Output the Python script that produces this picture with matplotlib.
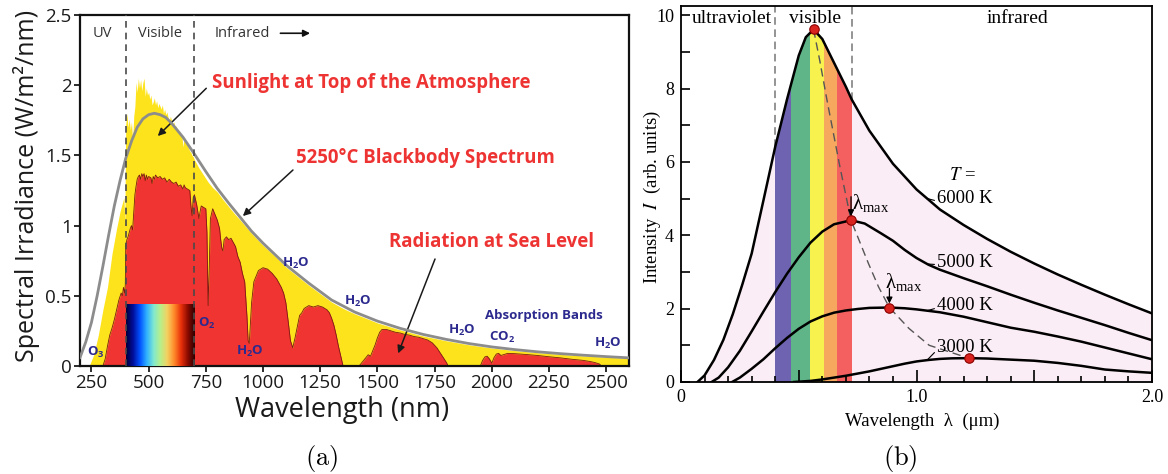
import numpy as np
import matplotlib
matplotlib.use("Agg")
import matplotlib.pyplot as plt
from matplotlib.colors import LinearSegmentedColormap
from matplotlib.patches import Polygon

# ---------------- (a) solar spectrum data (nm, W/m^2/nm) ----------------
bb_wl = [200, 225, 250, 275, 300, 325, 350, 375, 400, 425, 450, 475, 500, 525,
         550, 575, 600, 650, 700, 750, 800, 850, 900, 950, 1000, 1100, 1200,
         1300, 1400, 1500, 1600, 1700, 1800, 1900, 2000, 2100, 2200, 2300,
         2400, 2500, 2600]
bb_val = [0.06, 0.17, 0.31, 0.50, 0.71, 0.93, 1.14, 1.32, 1.48, 1.60, 1.70,
          1.76, 1.79, 1.80, 1.79, 1.77, 1.73, 1.63, 1.51, 1.385, 1.265, 1.16,
          1.06, 0.96, 0.875, 0.72, 0.59, 0.47, 0.385, 0.32, 0.268, 0.225,
          0.19, 0.16, 0.136, 0.117, 0.101, 0.088, 0.077, 0.067, 0.058]

toa_wl = [240, 260, 280, 300, 320, 340, 360, 375, 385, 392, 396,
          400, 405, 410, 415, 420, 425, 430, 435, 440, 445, 450, 455, 460,
          465, 470, 475, 480, 485, 490, 495, 500, 505, 510, 515, 520, 525,
          530, 535, 540, 545, 550, 555, 560, 565, 570, 575, 580, 585, 590,
          595, 600, 605, 610, 615, 620, 625, 630, 635, 640, 645, 650, 655,
          660, 665, 670, 675, 680, 685, 690, 695, 700, 710, 720,
          740, 760, 780, 800, 825, 850, 875, 900, 950, 1000, 1050, 1100,
          1150, 1200, 1250, 1300, 1350, 1400, 1450, 1500, 1600, 1700, 1800,
          1900, 2000, 2100, 2200, 2300, 2400, 2500, 2600]
toa_val = [0.00, 0.08, 0.22, 0.40, 0.56, 0.80, 0.98, 1.10, 1.16, 1.20, 1.02,
           1.72, 1.80, 1.70, 1.76, 1.68, 1.74, 1.60, 1.78, 1.85, 2.02, 1.95,
           2.05, 1.98, 2.04, 1.96, 2.02, 2.05, 1.92, 1.98, 1.93, 1.95, 1.90,
           1.93, 1.86, 1.88, 1.91, 1.86, 1.89, 1.84, 1.87, 1.85, 1.83, 1.86,
           1.80, 1.83, 1.79, 1.81, 1.77, 1.74, 1.78, 1.75, 1.72, 1.74, 1.70,
           1.71, 1.68, 1.66, 1.67, 1.64, 1.65, 1.56, 1.62, 1.60, 1.58, 1.57,
           1.55, 1.53, 1.52, 1.50, 1.49, 1.47, 1.44, 1.41,
           1.36, 1.31, 1.27, 1.24, 1.185, 1.135, 1.085, 1.04, 0.945, 0.86,
           0.785, 0.705, 0.64, 0.575, 0.515, 0.455, 0.41, 0.372, 0.34, 0.307,
           0.257, 0.214, 0.18, 0.151, 0.128, 0.11, 0.095, 0.083, 0.072,
           0.063, 0.055]

sea_wl = [300, 310, 320, 330, 340, 350, 360, 370, 380, 385, 390, 395, 398,
          400, 405, 410, 415, 420, 425, 430, 435, 440, 445, 450, 455, 460,
          465, 470, 475, 480, 485, 490, 495, 500, 510, 515, 520, 525, 530,
          540, 550, 560, 570, 580, 590, 600, 610, 620, 630, 640, 650, 655,
          660, 670, 680, 685, 690, 695, 700, 710, 720, 725, 730, 740, 750,
          755, 760, 765, 770, 780, 790, 800, 810, 815, 820, 825, 830, 840,
          850, 860, 870, 880, 890, 900, 910, 920, 930, 935, 940, 945, 950,
          960, 970, 980, 990, 1000, 1020, 1040, 1060, 1080, 1090, 1100,
          1110, 1120, 1130, 1140, 1150, 1160, 1170, 1180, 1190, 1200, 1220,
          1240, 1260, 1280, 1290, 1300, 1310, 1320, 1330, 1340, 1350,
          1420, 1440, 1460, 1470, 1480, 1490, 1500, 1510, 1520, 1540, 1560,
          1580, 1600, 1620, 1640, 1660, 1680, 1700, 1720, 1740, 1760, 1780,
          1800, 1810,
          1950, 1960, 1970, 1980, 1990, 2000, 2010, 2020, 2030, 2040, 2050,
          2070, 2100, 2150, 2200, 2250, 2300, 2350, 2400, 2430, 2450, 2470,
          2480]
sea_val = [0.00, 0.05, 0.14, 0.22, 0.27, 0.33, 0.40, 0.47, 0.52, 0.50, 0.56,
           0.52, 0.58, 0.86, 0.90, 0.92, 0.95, 0.98, 1.00, 0.97, 1.10, 1.22,
           1.28, 1.33, 1.35, 1.36, 1.33, 1.37, 1.35, 1.37, 1.32, 1.36, 1.33,
           1.35, 1.34, 1.30, 1.35, 1.33, 1.36, 1.34, 1.35, 1.33, 1.34, 1.31,
           1.33, 1.31, 1.30, 1.31, 1.28, 1.29, 1.26, 1.29, 1.27, 1.26, 1.25,
           1.14, 1.07, 1.20, 1.22, 1.15, 1.05, 1.10, 1.14, 1.13, 1.12, 0.95,
           0.43, 0.70, 1.05, 1.12, 1.08, 1.04, 0.98, 0.90, 0.84, 0.82, 0.90,
           0.92, 0.90, 0.91, 0.88, 0.85, 0.78, 0.74, 0.66, 0.60, 0.35, 0.18,
           0.16, 0.30, 0.45, 0.60, 0.64, 0.68, 0.69, 0.70, 0.69, 0.66, 0.62,
           0.56, 0.52, 0.45, 0.32, 0.18, 0.13, 0.20, 0.28, 0.36, 0.38, 0.41,
           0.42, 0.43, 0.42, 0.43, 0.42, 0.40, 0.38, 0.34, 0.29, 0.22, 0.14,
           0.07, 0.00,
           0.00, 0.04, 0.08, 0.07, 0.11, 0.15, 0.20, 0.24, 0.26, 0.26, 0.25,
           0.24, 0.235, 0.225, 0.22, 0.21, 0.205, 0.195, 0.185, 0.165, 0.13,
           0.08, 0.03, 0.00,
           0.00, 0.04, 0.065, 0.07, 0.05, 0.02, 0.06, 0.085, 0.09, 0.075,
           0.08, 0.09, 0.088, 0.082, 0.075, 0.066, 0.058, 0.048, 0.04, 0.032,
           0.025, 0.015, 0.00]

vis_band = (400, 700)
rainbow_top = 0.435

# ---------------- (b) blackbody curves (um, arb. units) ----------------
lam_6000 = [0.07, 0.10, 0.14, 0.18, 0.22, 0.26, 0.30, 0.35, 0.40, 0.45, 0.50,
            0.53, 0.563, 0.60, 0.65, 0.70, 0.725, 0.80, 0.90, 1.00, 1.10,
            1.20, 1.30, 1.40, 1.50, 1.60, 1.70, 1.80, 1.90, 2.00]
int_6000 = [0.0, 0.18, 0.60, 1.15, 1.85, 2.65, 3.50, 4.95, 6.41, 7.70, 8.90,
            9.40, 9.61, 9.35, 8.70, 8.05, 7.70, 6.85, 5.95, 5.25, 4.70,
            4.28, 3.90, 3.55, 3.23, 2.93, 2.65, 2.38, 2.12, 1.87]

lam_5000 = [0.13, 0.16, 0.20, 0.25, 0.30, 0.35, 0.40, 0.45, 0.50, 0.55, 0.60,
            0.65, 0.722, 0.78, 0.85, 0.90, 0.95, 1.00, 1.05, 1.10, 1.20, 1.30,
            1.40, 1.50, 1.60, 1.70, 1.80, 1.90, 2.00]
int_5000 = [0.0, 0.12, 0.40, 0.85, 1.38, 1.92, 2.45, 2.95, 3.40, 3.80, 4.10,
            4.30, 4.41, 4.32, 4.05, 3.85, 3.60, 3.38, 3.20, 3.06, 2.83, 2.61,
            2.38, 2.16, 1.95, 1.75, 1.55, 1.34, 1.14]

lam_4000 = [0.217, 0.25, 0.30, 0.35, 0.40, 0.45, 0.50, 0.55, 0.60, 0.65, 0.70,
            0.75, 0.80, 0.885, 0.95, 1.00, 1.05, 1.10, 1.20, 1.30, 1.40, 1.50,
            1.60, 1.70, 1.80, 1.90, 2.00]
int_4000 = [0.0, 0.12, 0.36, 0.62, 0.92, 1.20, 1.45, 1.65, 1.79, 1.89, 1.95,
            1.99, 2.02, 2.03, 2.01, 1.98, 1.94, 1.90, 1.78, 1.63, 1.48, 1.37,
            1.24, 1.10, 0.94, 0.78, 0.62]

lam_3000 = [0.48, 0.55, 0.60, 0.65, 0.70, 0.75, 0.80, 0.85, 0.90, 0.95, 1.00,
            1.05, 1.10, 1.15, 1.222, 1.30, 1.40, 1.50, 1.60, 1.70, 1.80, 1.90,
            2.00]
int_3000 = [0.0, 0.03, 0.07, 0.12, 0.17, 0.23, 0.29, 0.36, 0.43, 0.50, 0.56,
            0.60, 0.63, 0.645, 0.65, 0.64, 0.61, 0.58, 0.52, 0.44, 0.34, 0.29,
            0.25]

curves = [(lam_6000, int_6000, "6000 K", 5.0),
          (lam_5000, int_5000, "5000 K", 3.27),
          (lam_4000, int_4000, "4000 K", 2.09),
          (lam_3000, int_3000, "3000 K", 0.95)]

# locus of the peak positions (Wien displacement)
lam_locus = [0.563, 0.589, 0.620, 0.675, 0.722, 0.796, 0.839, 0.885, 0.968,
             1.054, 1.222]
int_locus = [9.61, 8.77, 7.68, 5.86, 4.41, 3.23, 2.59, 2.03, 1.46, 1.00, 0.65]

uv_edge, ir_edge = 0.40, 0.725
band_edges = [0.40, 0.465, 0.548, 0.607, 0.664, 0.725]
band_colors = ["#6d63b0", "#5fb488", "#f7f24e", "#f7a85f", "#f45f5f"]

# ---------------- figure ----------------
W, H = 1168, 474
fig = plt.figure(figsize=(W / 100, H / 100), dpi=100)
fig.patch.set_facecolor("white")


def fx(px):
    return px / W


def fy(py):
    return 1 - py / H


SANS = "Open Sans"
SERIF = "Liberation Serif"

# ======================= panel (a) =======================
axA = fig.add_axes([fx(80), fy(366), fx(629) - fx(80), fy(15) - fy(366)])

axA.fill_between(toa_wl, 0, toa_val, color="#fde31b", lw=0, zorder=1)
axA.fill_between(sea_wl, 0, sea_val, color="#ef3431", lw=0, zorder=2)
axA.plot(sea_wl, sea_val, color="#7a1a12", lw=0.6, zorder=2.5)

spec_cmap = LinearSegmentedColormap.from_list(
    "visible", ["#00003a", "#000d9a", "#0050ff", "#2fb0ff", "#7fe8d0",
                "#b8f08a", "#f4d060", "#ff8a2a", "#e8300a", "#8a0a00",
                "#2a0000"])
axA.imshow(np.linspace(0, 1, 256)[None, :], cmap=spec_cmap, aspect="auto",
           extent=[vis_band[0], vis_band[1], 0, rainbow_top], zorder=3)

axA.plot(bb_wl, bb_val, color="#8c8c8c", lw=2.0, zorder=4)

for xv in vis_band:
    axA.axvline(xv, color="#4a4a4a", lw=1.2, ls=(0, (4, 3)), zorder=5)

axA.set_xlim(200, 2600)
axA.set_ylim(0, 2.5)
axA.set_xticks(np.arange(250, 2501, 250))
axA.set_yticks([0, 0.5, 1, 1.5, 2, 2.5])
axA.set_yticklabels(["0", "0.5", "1", "1.5", "2", "2.5"])
axA.tick_params(direction="out", length=4, width=1.3, labelsize=13.5,
                pad=2, colors="#1a1a1a", labelfontfamily=SANS)
for sp in axA.spines.values():
    sp.set_linewidth(1.6)
    sp.set_color("#111111")

fig.text(fx(342), fy(410), "Wavelength (nm)", fontsize=19.5, family=SANS,
         color="#1a1a1a", ha="center", va="center")
fig.text(fx(27), fy(186), "Spectral Irradiance (W/m²/nm)", fontsize=18,
         family=SANS, color="#1a1a1a", ha="center", va="center",
         rotation=90)

# region labels along the top
axA.text(298, 2.37, "UV", fontsize=10.5, family=SANS, color="#333333",
         ha="center", va="center")
axA.text(550, 2.37, "Visible", fontsize=10.5, family=SANS, color="#333333",
         ha="center", va="center")
axA.text(788, 2.37, "Infrared", fontsize=10.5, family=SANS, color="#333333",
         ha="left", va="center")
axA.annotate("", xy=(1218, 2.37), xytext=(1064, 2.37),
             arrowprops=dict(arrowstyle="-|>", color="#111111", lw=1.2,
                             mutation_scale=10))

red_kw = dict(fontsize=13.4, family=SANS, fontweight="bold",
              color="#ee3333", ha="center", va="center")
axA.text(1474, 2.016, "Sunlight at Top of the Atmosphere", **red_kw)
axA.text(1712, 1.48, "5250°C Blackbody Spectrum", **red_kw)
axA.text(1997, 0.883, "Radiation at Sea Level", **red_kw)

arrow_kw = dict(arrowstyle="-|>", color="#1a1a1a", lw=1.1,
                mutation_scale=11, shrinkA=0, shrinkB=0)
axA.annotate("", xy=(540, 1.638), xytext=(752, 1.978), arrowprops=arrow_kw)
axA.annotate("", xy=(912, 1.068), xytext=(1131, 1.396), arrowprops=arrow_kw)
axA.annotate("", xy=(1591, 0.09), xytext=(1752, 0.762), arrowprops=arrow_kw)

blue_kw = dict(fontsize=9.5, family=SANS, fontweight="bold",
               color="#2c2a8e", ha="center", va="center")
for (xv, yv, s) in [(1145, 0.727, "H$_\\mathregular{2}$O"),
                    (1415, 0.463, "H$_\\mathregular{2}$O"),
                    (753, 0.306, "O$_\\mathregular{2}$"),
                    (944, 0.107, "H$_\\mathregular{2}$O"),
                    (270, 0.10, "O$_\\mathregular{3}$"),
                    (1870, 0.256, "H$_\\mathregular{2}$O"),
                    (2047, 0.206, "CO$_\\mathregular{2}$"),
                    (2507, 0.164, "H$_\\mathregular{2}$O"),
                    (2227, 0.363, "Absorption Bands")]:
    axA.text(xv, yv, s, zorder=6, **blue_kw)

# ======================= panel (b) =======================
axB = fig.add_axes([fx(681), fy(382), fx(1152) - fx(681), fy(6) - fy(382)])
axB.set_xlim(0, 2.0)
axB.set_ylim(0, 10.25)

l6 = np.asarray(lam_6000)
i6 = np.asarray(int_6000)
axB.fill_between(l6, 0, i6, color="#fbedf5", lw=0, zorder=0.5)
clip = Polygon(np.column_stack([np.r_[l6, l6[-1], l6[0]],
                                np.r_[i6, 0.0, 0.0]]),
               closed=True, transform=axB.transData)
for a, b, c in zip(band_edges[:-1], band_edges[1:], band_colors):
    span = axB.axvspan(a, b, color=c, lw=0, zorder=1)
    span.set_clip_path(clip)

for xv in (uv_edge, ir_edge):
    axB.plot([xv, xv], [np.interp(xv, l6, i6), 10.25], color="#777777",
             lw=1.1, ls=(0, (5, 3)), zorder=2)

axB.plot(lam_locus, int_locus, color="#555555", lw=1.0, ls=(0, (6, 3.5)),
         zorder=3)

for lam, val, lab, ylab in curves:
    axB.plot(lam, val, color="black", lw=1.8, zorder=4)
    k = int(np.argmax(val))
    axB.plot(lam[k], val[k], "o", ms=6.8, mfc="#d9231f", mec="#8a0000",
             mew=0.8, zorder=6)
    axB.annotate(lab, xy=(1.045, np.interp(1.045, lam, val)),
                 xytext=(1.088, ylab), fontsize=13.5, family=SERIF,
                 ha="left", va="center", zorder=7,
                 arrowprops=dict(arrowstyle="-", lw=0.8, color="black",
                                 shrinkA=0, shrinkB=0, relpos=(0, 0.35)))

axB.text(1.193, 5.64, "$T$ =", fontsize=13.5, family=SERIF,
         math_fontfamily="stix", ha="center", va="center")

for (lx, ly, px, py0, py1) in [(0.727, 4.86, 0.722, 5.05, 4.52),
                               (0.866, 2.70, 0.885, 2.55, 2.14)]:
    axB.text(lx, ly, "λ$_\\mathregular{max}$", fontsize=15, family=SERIF,
             ha="left", va="center", zorder=7)
    axB.annotate("", xy=(px, py1), xytext=(px, py0),
                 arrowprops=dict(arrowstyle="-|>", color="black", lw=0.9,
                                 mutation_scale=9, shrinkA=0, shrinkB=0),
                 zorder=7)

for (xv, s) in [(0.217, "ultraviolet"), (0.567, "visible"),
                (1.428, "infrared")]:
    axB.text(xv, 9.9, s, fontsize=14, family=SERIF, ha="center",
             va="center")

axB.set_xticks([0, 0.5, 1.0, 1.5, 2.0])
axB.set_xticklabels(["0", "", "1.0", "", "2.0"])
axB.set_xticks(np.arange(0, 2.001, 0.1), minor=True)
axB.set_yticks(range(0, 11))
axB.set_yticklabels([str(v) if v % 2 == 0 else "" for v in range(0, 11)])
axB.tick_params(axis="x", which="major", direction="in", length=8.5,
                width=1.2, labelsize=13, pad=5, labelfontfamily=SERIF)
axB.tick_params(axis="x", which="minor", direction="in", length=4,
                width=1.2)
axB.tick_params(axis="y", which="major", direction="in", length=6.5,
                width=1.2, labelsize=13, pad=5, labelfontfamily=SERIF)
for sp in axB.spines.values():
    sp.set_linewidth(1.3)

fig.text(fx(922), fy(421), "Wavelength  λ  (μm)", fontsize=13.5,
         family=SERIF, ha="center", va="center")
fig.text(fx(652), fy(197), "Intensity  $I$  (arb. units)", fontsize=13.5,
         family=SERIF, math_fontfamily="stix", ha="center", va="center",
         rotation=90)

# panel captions
fig.text(fx(322), fy(458), r"$\mathrm{(a)}$", fontsize=19,
         math_fontfamily="cm", ha="center", va="center")
fig.text(fx(900), fy(458), r"$\mathrm{(b)}$", fontsize=19,
         math_fontfamily="cm", ha="center", va="center")

fig.savefig("out.png", dpi=100, facecolor="white")
